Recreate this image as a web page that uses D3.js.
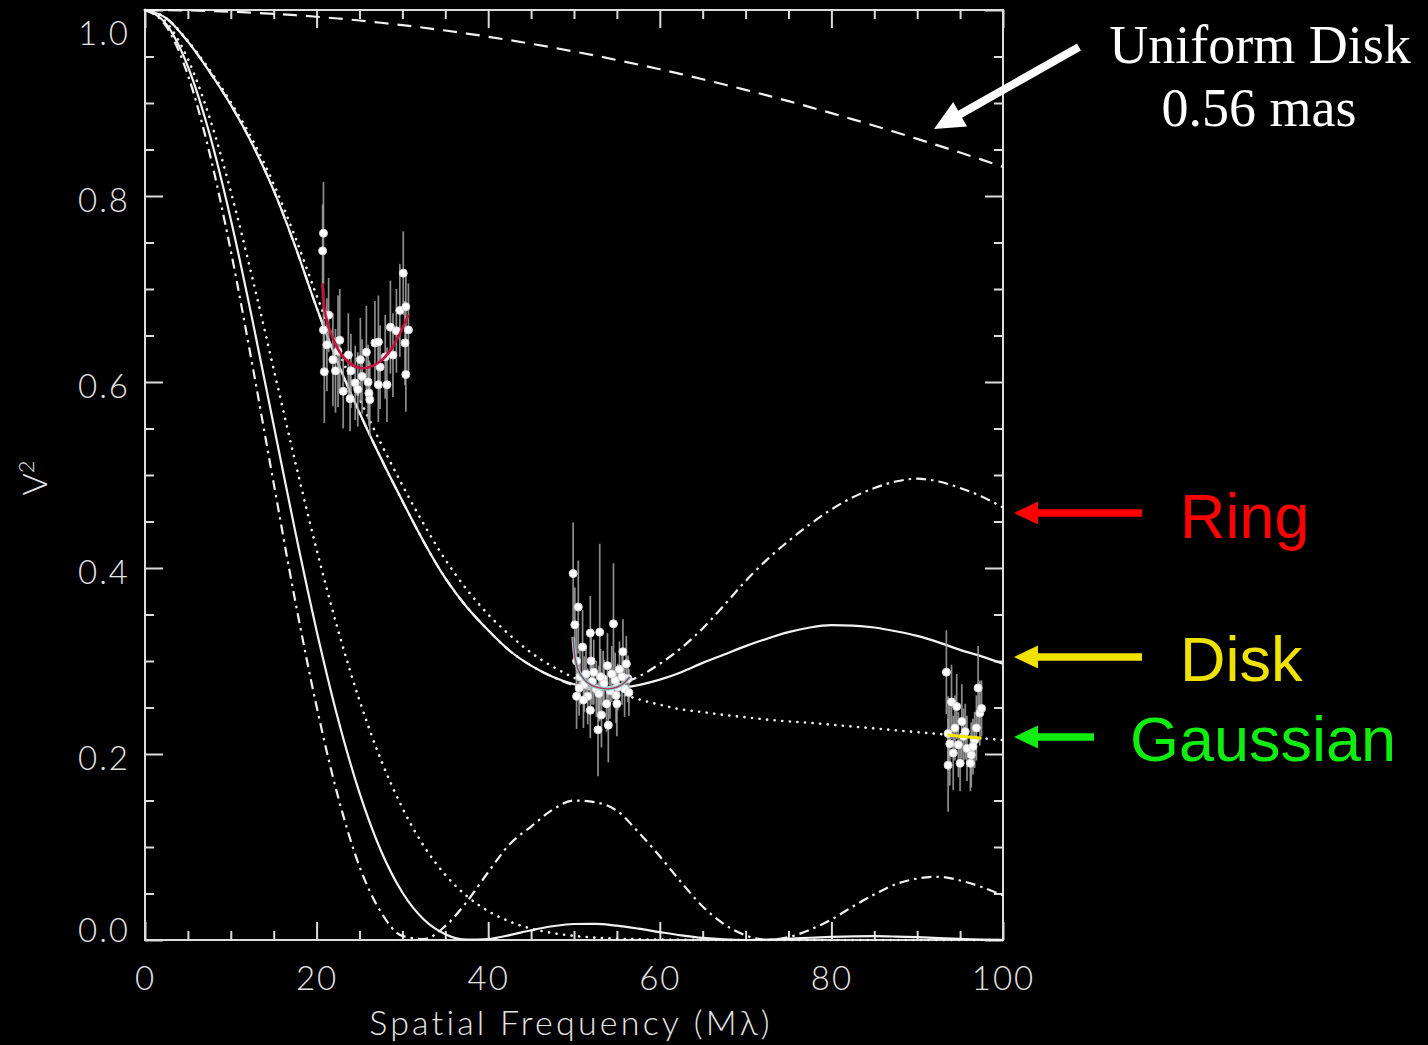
<!DOCTYPE html>
<html>
<head>
<meta charset="utf-8">
<script src="https://cdn.jsdelivr.net/npm/d3@7"></script>
<style>
  html, body { margin: 0; padding: 0; background: #000; }
  svg { display: block; }
  .axis text { font-family: Lato, "DejaVu Sans", sans-serif; font-weight: 300; font-size: 33px; fill: #e4e4e4; letter-spacing: 2px; }
  .axis line { stroke: #dcdcdc; stroke-width: 2; }
  .axis path.domain { display: none; }
</style>
</head>
<body>
<svg id="chart" width="1428" height="1045"></svg>
<script>
// Spatial frequency grid (Mλ) shared by the model curves
const freq = [0, 2.5, 5, 7.5, 10, 12.5, 15, 17.5, 20, 22.5, 25, 27.5, 30, 32.5, 35, 37.5, 40,
  42.5, 45, 47.5, 50, 52.5, 55, 57.5, 60, 62.5, 65, 67.5, 70, 72.5, 75, 77.5, 80, 82.5, 85,
  87.5, 90, 92.5, 95, 97.5, 100];

// Uniform disk of 0.56 mas
const uniformDisk = [1, 0.99989, 0.99955, 0.99898, 0.9982, 0.99716, 0.99591, 0.99444, 0.99275,
  0.99083, 0.98869, 0.98632, 0.98374, 0.98094, 0.97792, 0.97469, 0.97125, 0.96759, 0.96373,
  0.95966, 0.95537, 0.9509, 0.94622, 0.94135, 0.93629, 0.93102, 0.92557, 0.91994, 0.91411,
  0.90813, 0.90195, 0.89561, 0.8891, 0.88243, 0.87559, 0.86859, 0.86143, 0.85414, 0.8467,
  0.83912, 0.83132];

// Composite models fitted to the data (extended component + compact star)
const ringFit = [1, 0.991, 0.966, 0.934, 0.898, 0.856, 0.806, 0.746, 0.68, 0.62, 0.567, 0.518,
  0.472, 0.428, 0.389, 0.358, 0.333, 0.311, 0.295, 0.283, 0.274, 0.269, 0.274, 0.283, 0.297,
  0.314, 0.335, 0.36, 0.386, 0.409, 0.429, 0.447, 0.463, 0.476, 0.486, 0.493, 0.496, 0.493,
  0.486, 0.477, 0.465];
const diskFit = [1, 0.991, 0.966, 0.934, 0.898, 0.856, 0.806, 0.746, 0.68, 0.62, 0.567, 0.518,
  0.472, 0.428, 0.389, 0.358, 0.333, 0.311, 0.295, 0.283, 0.275, 0.271, 0.271, 0.274, 0.28,
  0.288, 0.298, 0.307, 0.316, 0.324, 0.331, 0.336, 0.3385, 0.338, 0.336, 0.332, 0.327, 0.32,
  0.312, 0.305, 0.297];
const gaussFit = [1, 0.991, 0.967, 0.936, 0.901, 0.861, 0.813, 0.756, 0.693, 0.635, 0.582, 0.534,
  0.489, 0.447, 0.409, 0.377, 0.35, 0.328, 0.309, 0.294, 0.282, 0.273, 0.266, 0.259, 0.253,
  0.248, 0.245, 0.242, 0.2395, 0.237, 0.235, 0.2335, 0.2315, 0.2295, 0.2275, 0.2255, 0.2235,
  0.2215, 0.2195, 0.217, 0.215];

// Fully resolved extended components alone
const ringOnly = [1, 0.982, 0.93, 0.847, 0.741, 0.619, 0.491, 0.365, 0.251, 0.154, 0.079, 0.03,
  0.0044, 0.0011, 0.015, 0.041, 0.073, 0.103, 0.122, 0.14, 0.15, 0.148, 0.139, 0.116, 0.09,
  0.062, 0.036, 0.017, 0.005, 0.0002, 0.003, 0.011, 0.022, 0.036, 0.049, 0.06, 0.066, 0.068,
  0.064, 0.057, 0.048];
const diskOnly = [1, 0.9845, 0.9391, 0.8674, 0.7748, 0.6675, 0.5534, 0.4397, 0.3326, 0.2376,
  0.1582, 0.096, 0.0511, 0.022, 0.0062, 0.0003, 0.0011, 0.0053, 0.0105, 0.0148, 0.0172, 0.0173,
  0.0154, 0.0122, 0.0085, 0.005, 0.0022, 0.0006, 0, 0.0004, 0.0013, 0.0024, 0.0034, 0.004,
  0.0041, 0.0037, 0.003, 0.002, 0.0012, 0.0005, 0.0001];
const gaussOnly = [1, 0.9865, 0.9472, 0.8851, 0.8049, 0.7124, 0.6137, 0.5145, 0.4198, 0.3333,
  0.2576, 0.1937, 0.1419, 0.1011, 0.0701, 0.0473, 0.0311, 0.0199, 0.0123, 0.0075, 0.0044,
  0.0025, 0.0014, 0.0008, 0.0004, 0.0002, 0.0001, 0, 0, 0, 0, 0, 0, 0, 0, 0, 0, 0, 0, 0, 0];

// Measured squared visibilities: short baselines
const shortU = [20.8, 20.7, 20.8, 20.9, 21.4, 21.9, 22.2, 22.5, 22.7, 23.1, 23.7, 23.9, 24.0, 24.5,
  25.1, 25.3, 25.8, 26.0, 26.1, 26.2, 26.8, 27.2, 27.2, 27.4, 28.0, 28.2, 28.6, 28.9, 29.7, 30.1,
  30.3, 30.4, 30.4, 30.7, 21.2, 24.8, 29.3];
const shortV = [0.76, 0.741, 0.656, 0.611, 0.672, 0.624, 0.612, 0.633, 0.645, 0.59, 0.629, 0.582,
  0.612, 0.599, 0.624, 0.606, 0.632, 0.6, 0.588, 0.581, 0.642, 0.643, 0.597, 0.616, 0.627, 0.597,
  0.659, 0.629, 0.677, 0.717, 0.642, 0.681, 0.608, 0.656, 0.64, 0.592, 0.655];
const shortErr = [0.055, 0.05, 0.045, 0.055, 0.04, 0.05, 0.045, 0.06, 0.055, 0.04, 0.045, 0.035,
  0.04, 0.04, 0.045, 0.04, 0.05, 0.04, 0.035, 0.04, 0.045, 0.05, 0.04, 0.045, 0.045, 0.04, 0.05,
  0.045, 0.05, 0.045, 0.045, 0.04, 0.04, 0.05, 0.05, 0.04, 0.045];

// Medium baselines
const midU = [49.9, 50.5, 50.1, 50.3, 50.3, 50.7, 51.0, 51.2, 51.9, 51.6, 51.9, 52.0, 52.3, 52.6,
  52.8, 53.0, 53.2, 53.4, 53.8, 53.9, 54.0, 54.2, 54.6, 54.8, 55.0, 55.3, 55.7, 55.9, 56.1, 56.3,
  50.6, 51.4, 52.1, 52.9, 53.5, 54.4, 55.1, 55.6, 56.4, 51.1, 53.1, 54.9];
const midV = [0.394, 0.358, 0.339, 0.3, 0.262, 0.283, 0.315, 0.275, 0.33, 0.262, 0.247, 0.3, 0.288,
  0.27, 0.226, 0.331, 0.242, 0.281, 0.254, 0.295, 0.231, 0.268, 0.34, 0.279, 0.254, 0.291, 0.31,
  0.27, 0.297, 0.281, 0.271, 0.286, 0.278, 0.265, 0.276, 0.286, 0.272, 0.283, 0.266, 0.258, 0.283,
  0.263];
const midErr = [0.055, 0.05, 0.04, 0.04, 0.035, 0.03, 0.04, 0.03, 0.04, 0.03, 0.03, 0.035, 0.035,
  0.03, 0.05, 0.095, 0.035, 0.03, 0.03, 0.035, 0.04, 0.03, 0.065, 0.03, 0.035, 0.03, 0.035, 0.03,
  0.03, 0.025, 0.03, 0.03, 0.025, 0.03, 0.025, 0.03, 0.025, 0.03, 0.025, 0.03, 0.03, 0.03];

// Long baselines
const longU = [93.4, 94.0, 94.6, 93.6, 93.8, 94.2, 93.6, 94.8, 95.0, 95.2, 95.4, 95.8, 96.2, 96.3,
  96.7, 96.9, 97.1, 97.3, 97.5, 94.4, 95.6, 96.5];
const longV = [0.288, 0.256, 0.251, 0.222, 0.211, 0.201, 0.188, 0.21, 0.19, 0.235, 0.219, 0.206,
  0.19, 0.199, 0.215, 0.228, 0.271, 0.244, 0.249, 0.228, 0.224, 0.208];
const longErr = [0.045, 0.04, 0.035, 0.04, 0.045, 0.04, 0.05, 0.035, 0.03, 0.04, 0.03, 0.035, 0.03,
  0.035, 0.03, 0.035, 0.045, 0.035, 0.03, 0.035, 0.03, 0.03];

// Local fits through each group of measurements
const shortFitU = [20.7, 21.0, 21.8, 23.1, 24.7, 25.7, 27.4, 28.6, 29.7, 30.7];
const shortFitV = [0.706, 0.674, 0.649, 0.627, 0.616, 0.615, 0.622, 0.634, 0.652, 0.672];
const midFitU = [49.9, 50.1, 50.5, 51.2, 52.0, 53.0, 54.0, 55.0, 55.8, 56.5];
const midFitV = [0.326, 0.305, 0.29, 0.28, 0.274, 0.271, 0.27, 0.272, 0.276, 0.283];
const longFitU = [93.5, 97.5];
const longFitV = [0.2205, 0.217];

// Axis ticks
const xMajor = [0, 20, 40, 60, 80, 100];
const xMinor = [5, 10, 15, 25, 30, 35, 45, 50, 55, 65, 70, 75, 85, 90, 95];
const yMajor = [0, 0.2, 0.4, 0.6, 0.8, 1.0];
const yMinor = [0.05, 0.1, 0.15, 0.25, 0.3, 0.35, 0.45, 0.5, 0.55, 0.65, 0.7, 0.75, 0.85, 0.9, 0.95];
const yLabels = ["0.0", "0.2", "0.4", "0.6", "0.8", "1.0"];

const svg = d3.select("#chart");
svg.append("rect").attr("width", 1428).attr("height", 1045).attr("fill", "#000");

const x = d3.scaleLinear().domain([0, 100]).range([145, 1003]);
const y = d3.scaleLinear().domain([0, 1]).range([940, 10]);

// Axes with inward ticks on all four sides
const axes = svg.append("g");
axes.append("g").attr("class", "axis").attr("transform", "translate(0,940)")
  .call(d3.axisBottom(x).tickValues(xMajor).tickSize(-18).tickPadding(27).tickFormat(d3.format("d")));
axes.append("g").attr("class", "axis").attr("transform", "translate(0,940)")
  .call(d3.axisBottom(x).tickValues(xMinor).tickSize(-9).tickFormat(""));
axes.append("g").attr("class", "axis").attr("transform", "translate(0,10)")
  .call(d3.axisTop(x).tickValues(xMajor).tickSize(-18).tickFormat(""));
axes.append("g").attr("class", "axis").attr("transform", "translate(0,10)")
  .call(d3.axisTop(x).tickValues(xMinor).tickSize(-9).tickFormat(""));
const leftAx = axes.append("g").attr("class", "axis").attr("transform", "translate(145,0)")
  .call(d3.axisLeft(y).tickValues(yMajor).tickSize(-18).tickPadding(15)
    .tickFormat((d, i) => yLabels[i]));
leftAx.selectAll("text").attr("dy", d => d === 0 ? "0.05em" : d === 1 ? "1.05em" : "0.48em");
axes.append("g").attr("class", "axis").attr("transform", "translate(145,0)")
  .call(d3.axisLeft(y).tickValues(yMinor).tickSize(-9).tickFormat(""));
axes.append("g").attr("class", "axis").attr("transform", "translate(1003,0)")
  .call(d3.axisRight(y).tickValues(yMajor).tickSize(-18).tickFormat(""));
axes.append("g").attr("class", "axis").attr("transform", "translate(1003,0)")
  .call(d3.axisRight(y).tickValues(yMinor).tickSize(-9).tickFormat(""));

svg.append("rect")
  .attr("x", x(0)).attr("y", y(1)).attr("width", x(100) - x(0)).attr("height", y(0) - y(1))
  .attr("fill", "none").attr("stroke", "#dcdcdc").attr("stroke-width", 2);

// Axis titles
svg.append("text")
  .attr("x", 571).attr("y", 1035).attr("text-anchor", "middle")
  .attr("font-family", "Lato, 'DejaVu Sans', sans-serif").attr("font-weight", 300)
  .attr("font-size", 34).attr("letter-spacing", 3.2).attr("fill", "#e4e4e4")
  .text("Spatial Frequency (Mλ)");
const yTitle = svg.append("text")
  .attr("transform", "translate(47,478) rotate(-90)").attr("text-anchor", "middle")
  .attr("font-family", "Lato, 'DejaVu Sans', sans-serif").attr("font-weight", 300)
  .attr("font-size", 34).attr("fill", "#e4e4e4");
yTitle.append("tspan").text("V");
yTitle.append("tspan").attr("font-size", 22).attr("dy", -13).text("2");

// Model curves
const line = d3.line().x(d => x(d[0])).y(d => y(d[1])).curve(d3.curveMonotoneX);
const plot = svg.append("g");
const styles = {
  solid: null,
  dashed: "14,9",
  dashdot: "10,5,2.5,5",
  dotted: "0.1,7.5"
};
function curve(values, style) {
  const pts = freq.map((f, i) => [f, values[i]]);
  plot.append("path")
    .attr("d", line(pts))
    .attr("fill", "none")
    .attr("stroke", "#f2f2f2")
    .attr("stroke-width", style === "dotted" ? 2.6 : 2.2)
    .attr("stroke-linecap", style === "dotted" ? "round" : "butt")
    .attr("stroke-dasharray", styles[style]);
}
curve(uniformDisk, "dashed");
curve(ringOnly, "dashdot");
curve(diskOnly, "solid");
curve(gaussOnly, "dotted");
curve(ringFit, "dashdot");
curve(gaussFit, "dotted");
curve(diskFit, "solid");

// Measurements with error bars
function measurements(us, vs, es) {
  const g = svg.append("g");
  g.selectAll("line").data(us).join("line")
    .attr("x1", d => x(d)).attr("x2", d => x(d))
    .attr("y1", (d, i) => y(vs[i] - es[i])).attr("y2", (d, i) => y(vs[i] + es[i]))
    .attr("stroke", "#a4a4a4").attr("stroke-width", 1.7).attr("stroke-opacity", 0.85);
  g.selectAll("circle").data(us).join("circle")
    .attr("cx", d => x(d)).attr("cy", (d, i) => y(vs[i])).attr("r", 4)
    .attr("fill", "#ffffff").attr("stroke", "#d8d8d8").attr("stroke-width", 1);
}
measurements(shortU, shortV, shortErr);
measurements(midU, midV, midErr);
measurements(longU, longV, longErr);

// Local fits
const fitLine = d3.line().x(d => x(d[0])).y(d => y(d[1])).curve(d3.curveCatmullRom);
svg.append("path").attr("d", fitLine(shortFitU.map((u, i) => [u, shortFitV[i]])))
  .attr("fill", "none").attr("stroke", "#c8123e").attr("stroke-width", 2.6);
svg.append("path").attr("d", fitLine(midFitU.map((u, i) => [u, midFitV[i]])))
  .attr("fill", "none").attr("stroke", "#7fd3d3").attr("stroke-width", 3.4);
svg.append("path").attr("d", fitLine(midFitU.map((u, i) => [u, midFitV[i]])))
  .attr("fill", "none").attr("stroke", "#c0304a").attr("stroke-width", 1.3);
svg.append("path").attr("d", fitLine(longFitU.map((u, i) => [u, longFitV[i]])))
  .attr("fill", "none").attr("stroke", "#f5e400").attr("stroke-width", 3);

// Annotation arrows
function arrow(x1, y1, x2, y2, shaft, headLen, headHalf, color) {
  const dx = x2 - x1, dy = y2 - y1, len = Math.hypot(dx, dy);
  const ux = dx / len, uy = dy / len, nx = -uy, ny = ux;
  const bx = x2 - ux * headLen, by = y2 - uy * headLen;
  const s = shaft / 2;
  const pts = [
    [x1 + nx * s, y1 + ny * s], [bx + nx * s, by + ny * s], [bx + nx * headHalf, by + ny * headHalf],
    [x2, y2], [bx - nx * headHalf, by - ny * headHalf], [bx - nx * s, by - ny * s], [x1 - nx * s, y1 - ny * s]
  ];
  svg.append("polygon").attr("points", pts.map(p => p.join(",")).join(" ")).attr("fill", color);
}
arrow(1079, 47, 934, 129, 8, 30, 14, "#ffffff");
arrow(1142, 513, 1014, 513, 7.5, 24, 11.5, "#ff0000");
arrow(1142, 657, 1014, 657, 7.5, 24, 11.5, "#efe200");
arrow(1094, 737, 1014, 737, 7.5, 24, 11.5, "#10ee10");

const serif = "'Liberation Serif', 'Times New Roman', serif";
const sans = "'Liberation Sans', Arial, sans-serif";
svg.append("text").attr("x", 1260).attr("y", 63).attr("text-anchor", "middle")
  .attr("font-family", serif).attr("font-size", 54).attr("fill", "#ffffff").text("Uniform Disk");
svg.append("text").attr("x", 1259).attr("y", 126).attr("text-anchor", "middle")
  .attr("font-family", serif).attr("font-size", 54).attr("fill", "#ffffff").text("0.56 mas");
svg.append("text").attr("x", 1180).attr("y", 538)
  .attr("font-family", sans).attr("font-size", 63).attr("fill", "#ff0000").text("Ring");
svg.append("text").attr("x", 1180).attr("y", 681)
  .attr("font-family", sans).attr("font-size", 63).attr("fill", "#efe200").text("Disk");
svg.append("text").attr("x", 1130).attr("y", 761)
  .attr("font-family", sans).attr("font-size", 63).attr("fill", "#10ee10").text("Gaussian");
</script>
</body>
</html>
